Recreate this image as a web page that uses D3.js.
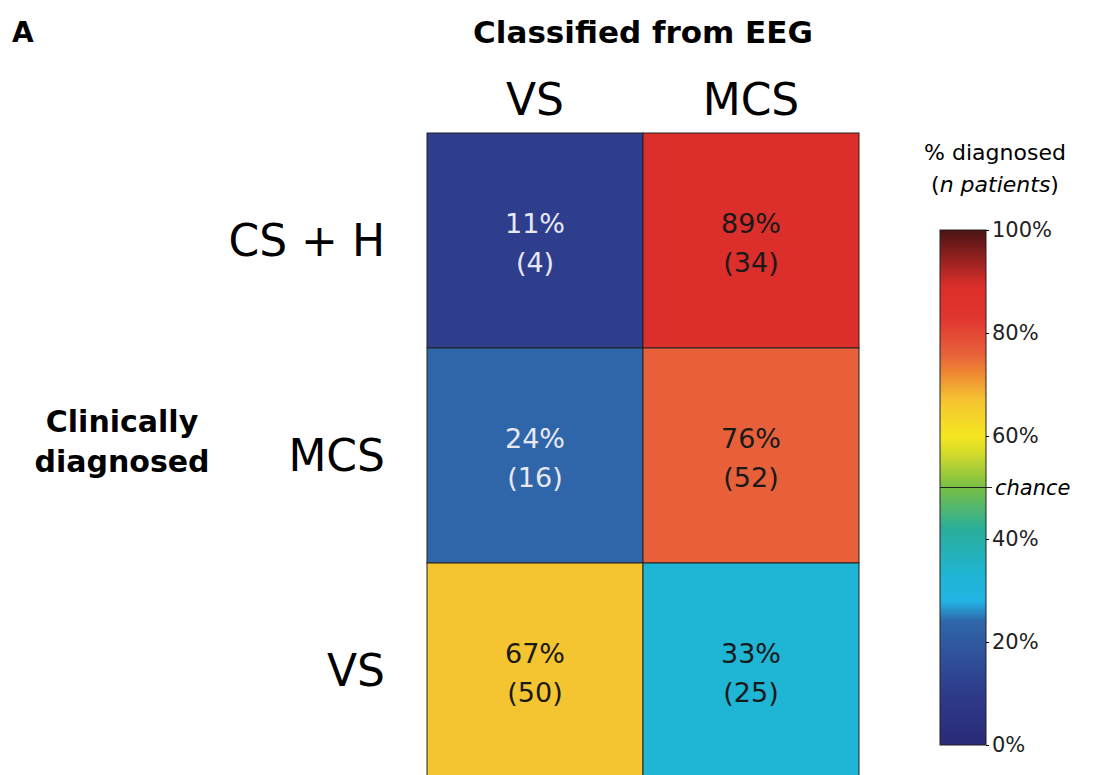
<!DOCTYPE html>
<html><head><meta charset="utf-8">
<script src="https://cdn.jsdelivr.net/npm/d3@7"></script>
<style>body{margin:0;background:#fff}svg{font-family:"DejaVu Sans",sans-serif}</style>
</head><body><svg id="c" width="1099" height="775"></svg>
<script>
var colLabels = ["VS", "MCS"];
var rowLabels = ["CS + H", "MCS", "VS"];
var pct = [[11, 89], [24, 76], [67, 33]];
var counts = [[4, 34], [16, 52], [50, 25]];
var barTicks = [0, 20, 40, 60, 80, 100];
var stopVals = [0, 11, 24, 28, 33, 42, 50, 57, 60, 67, 72, 76, 83, 89, 100];
var stopCols = ["#2a2a78", "#2e3d8c", "#2f66a9", "#22b4e4", "#1fb5d4", "#2aae9a", "#78bf45", "#d8dc2a", "#f5e620", "#f5c431", "#ee8a32", "#e8603a", "#e03530", "#dc2e2a", "#4a1414"];

var svg = d3.select("#c");
var color = d3.scaleLinear().domain(stopVals).range(stopCols);
var x = d3.scaleBand().domain(d3.range(2)).range([427, 859]);
var y = d3.scaleBand().domain(d3.range(3)).range([133, 778]);

svg.append("text").attr("x", 12).attr("y", 42).attr("font-weight", "bold").attr("font-size", 28).text("A");
svg.append("text").attr("x", 643).attr("y", 43).attr("text-anchor", "middle").attr("font-weight", "bold").attr("font-size", 31).text("Classified from EEG");
colLabels.forEach(function(d, i) {
	svg.append("text").attr("x", x(i) + x.bandwidth() / 2).attr("y", 115).attr("text-anchor", "middle").attr("font-size", 44).text(d);
});
rowLabels.forEach(function(d, i) {
	svg.append("text").attr("x", 385).attr("y", y(i) + y.bandwidth() / 2 + 15).attr("text-anchor", "end").attr("font-size", 44).text(d);
});
svg.append("text").attr("x", 122).attr("y", 432).attr("text-anchor", "middle").attr("font-weight", "bold").attr("font-size", 30).text("Clinically");
svg.append("text").attr("x", 122).attr("y", 472).attr("text-anchor", "middle").attr("font-weight", "bold").attr("font-size", 30).text("diagnosed");

pct.forEach(function(row, r) {
	row.forEach(function(v, c) {
		var g = svg.append("g").attr("transform", "translate(" + x(c) + "," + y(r) + ")");
		g.append("rect").attr("width", x.bandwidth()).attr("height", y.bandwidth()).attr("fill", color(v)).attr("stroke", "#222").attr("stroke-width", 1);
		var tc = v < 30 ? "#e8e8f4" : "#1a1a1a";
		g.append("text").attr("x", x.bandwidth() / 2).attr("y", 100).attr("text-anchor", "middle").attr("font-size", 27).attr("fill", tc).text(v + "%");
		g.append("text").attr("x", x.bandwidth() / 2).attr("y", 139).attr("text-anchor", "middle").attr("font-size", 27).attr("fill", tc).text("(" + counts[r][c] + ")");
	});
});

// colour bar
var cb = d3.scaleLinear().domain([0, 100]).range([745, 230]);
var grad = svg.append("defs").append("linearGradient").attr("id", "g").attr("x1", 0).attr("y1", 1).attr("x2", 0).attr("y2", 0);
stopVals.forEach(function(v, i) {
	grad.append("stop").attr("offset", v + "%").attr("stop-color", stopCols[i]);
});
svg.append("rect").attr("x", 940).attr("y", cb(100)).attr("width", 46).attr("height", cb(0) - cb(100)).attr("fill", "url(#g)").attr("stroke", "#222");
var ax = svg.append("g").attr("transform", "translate(986,0)").call(d3.axisRight(cb).tickValues(barTicks).tickSize(3).tickFormat(function(d) { return d + "%"; }));
ax.select(".domain").remove();
ax.selectAll("text").attr("font-size", 21).attr("font-family", "DejaVu Sans").attr("fill", "#222");
svg.append("line").attr("x1", 940).attr("x2", 992).attr("y1", cb(50)).attr("y2", cb(50)).attr("stroke", "#222");
svg.append("text").attr("x", 995).attr("y", cb(50) + 7).attr("font-size", 21).attr("font-style", "italic").text("chance");
svg.append("text").attr("x", 995).attr("y", 160).attr("text-anchor", "middle").attr("font-size", 22).text("% diagnosed");
var t = svg.append("text").attr("x", 995).attr("y", 192).attr("text-anchor", "middle").attr("font-size", 22);
t.append("tspan").text("(");
t.append("tspan").attr("font-style", "italic").text("n patients");
t.append("tspan").text(")");
</script></body></html>
